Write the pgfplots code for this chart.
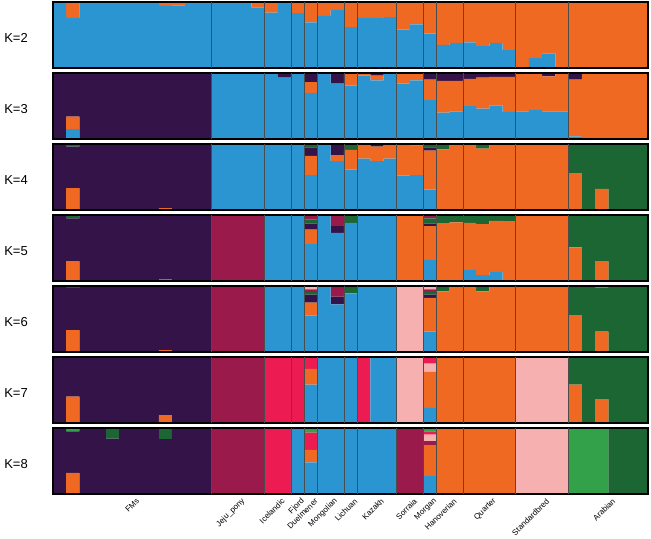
\documentclass[border=0pt]{standalone}
\usepackage{pgfplots}
\pgfplotsset{compat=1.18}
\usepackage{pgfplotstable}
\usepackage{fontspec}
\setmainfont{Liberation Sans}

\definecolor{cPur}{HTML}{341349}
\definecolor{cBlu}{HTML}{2B95D2}
\definecolor{cOra}{HTML}{F06922}
\definecolor{cDGr}{HTML}{1B6632}
\definecolor{cMar}{HTML}{9A1B4B}
\definecolor{cLPi}{HTML}{F7B0B0}
\definecolor{cHPi}{HTML}{EC1B52}
\definecolor{cLGr}{HTML}{33A04A}

% K=2: blue orange
\pgfplotstableread{
b o
1 0
0.76 0.24
1 0
1 0
1 0
1 0
1 0
1 0
0.94 0.06
0.95 0.05
1 0
1 0
1 0
1 0
1 0
0.92 0.08
0.84 0.16
1 0
0.83 0.17
0.69 0.31
0.79 0.21
0.88 0.12
0.62 0.38
0.76 0.24
0.76 0.24
0.77 0.23
0.58 0.42
0.66 0.34
0.52 0.48
0.35 0.65
0.38 0.62
0.39 0.61
0.33 0.67
0.38 0.62
0.27 0.73
0 1
0.15 0.85
0.22 0.78
0 1
0 1
0 1
0 1
0 1
0 1
0 1
}\tabB

% K=3: blue orange purple
\pgfplotstableread{
b o p
0 0 1
0.15 0.19 0.66
0 0 1
0 0 1
0 0 1
0 0 1
0 0 1
0 0 1
0 0 1
0 0 1
0 0 1
0 0 1
1 0 0
1 0 0
1 0 0
1 0 0
1 0 0
0.93 0 0.07
1 0 0
0.70 0.16 0.14
1 0 0
0.84 0 0.16
0.81 0.19 0
0.96 0.04 0
0.89 0.07 0.04
1 0 0
0.84 0.16 0
0.89 0.11 0
0.59 0.31 0.10
0.40 0.48 0.12
0.42 0.46 0.12
0.50 0.41 0.09
0.46 0.47 0.07
0.51 0.43 0.06
0.41 0.53 0.06
0.42 0.58 0
0.44 0.56 0
0.42 0.53 0.05
0.42 0.58 0
0.04 0.86 0.10
0 1 0
0 1 0
0 1 0
0 1 0
0 1 0
}\tabC

% K=4: blue orange purple green
\pgfplotstableread{
b o p g
0 0 1 0
0 0.33 0.63 0.04
0 0 1 0
0 0 1 0
0 0 1 0
0 0 1 0
0 0 1 0
0 0 1 0
0 0.03 0.97 0
0 0 1 0
0 0 1 0
0 0 1 0
1 0 0 0
1 0 0 0
1 0 0 0
1 0 0 0
1 0 0 0
1 0 0 0
1 0 0 0
0.53 0.29 0.13 0.05
1 0 0 0
0.74 0.09 0.17 0
0.61 0.30 0 0.09
0.78 0.22 0 0
0.74 0.22 0.04 0
0.78 0.22 0 0
0.52 0.48 0 0
0.53 0.45 0.02 0
0.31 0.59 0.05 0.05
0 0.92 0 0.08
0 1 0 0
0 1 0 0
0 0.93 0 0.07
0 1 0 0
0 1 0 0
0 1 0 0
0 1 0 0
0 1 0 0
0 1 0 0
0 0.56 0 0.44
0 0 0 1
0 0.32 0 0.68
0 0 0 1
0 0 0 1
0 0 0 1
}\tabD

% K=5: blue orange purple green maroon
\pgfplotstableread{
b o p g m
0 0 1 0 0
0 0.30 0.65 0.05 0
0 0 1 0 0
0 0 1 0 0
0 0 1 0 0
0 0 1 0 0
0 0 1 0 0
0 0 1 0 0
0 0.02 0.98 0 0
0 0 1 0 0
0 0 1 0 0
0 0 1 0 0
0 0 0 0 1
0 0 0 0 1
0 0 0 0 1
0 0 0 0 1
1 0 0 0 0
1 0 0 0 0
1 0 0 0 0
0.56 0.22 0.09 0.06 0.07
1 0 0 0 0
0.73 0 0.10 0 0.17
0.88 0 0 0.12 0
1 0 0 0 0
1 0 0 0 0
1 0 0 0 0
0 1 0 0 0
0 1 0 0 0
0.32 0.51 0.04 0.08 0.05
0 0.87 0 0.13 0
0 0.89 0 0.11 0
0.17 0.71 0 0.12 0
0.09 0.77 0 0.14 0
0.14 0.77 0 0.09 0
0 0.90 0 0.10 0
0 1 0 0 0
0 1 0 0 0
0 1 0 0 0
0 1 0 0 0
0 0.51 0 0.49 0
0 0 0 1 0
0 0.30 0 0.70 0
0 0 0 1 0
0 0 0 1 0
0 0 0 1 0
}\tabE

% K=6: blue orange purple green maroon lightpink
\pgfplotstableread{
b o p g m k
0 0 1 0 0 0
0 0.33 0.64 0.03 0 0
0 0 1 0 0 0
0 0 1 0 0 0
0 0 1 0 0 0
0 0 1 0 0 0
0 0 1 0 0 0
0 0 1 0 0 0
0 0.03 0.97 0 0 0
0 0 1 0 0 0
0 0 1 0 0 0
0 0 1 0 0 0
0 0 0 0 1 0
0 0 0 0 1 0
0 0 0 0 1 0
0 0 0 0 1 0
1 0 0 0 0 0
1 0 0 0 0 0
1 0 0 0 0 0
0.55 0.20 0.12 0.04 0.04 0.05
1 0 0 0 0 0
0.72 0 0.12 0 0.16 0
0.89 0 0 0.11 0 0
1 0 0 0 0 0
1 0 0 0 0 0
1 0 0 0 0 0
0 0 0 0 0 1
0 0 0 0 0 1
0.31 0.51 0.05 0.04 0.04 0.05
0 0.92 0 0.08 0 0
0 1 0 0 0 0
0 1 0 0 0 0
0 0.92 0 0.08 0 0
0 1 0 0 0 0
0 1 0 0 0 0
0 1 0 0 0 0
0 1 0 0 0 0
0 1 0 0 0 0
0 1 0 0 0 0
0 0.56 0 0.44 0 0
0 0 0 1 0 0
0 0.31 0 0.67 0 0.02
0 0 0 1 0 0
0 0 0 1 0 0
0 0 0 1 0 0
}\tabF

% K=7: blue orange lightpink hotpink purple maroon green
\pgfplotstableread{
b o k h p m g
0 0 0 0 1 0 0
0 0.40 0 0 0.60 0 0
0 0 0 0 1 0 0
0 0 0 0 1 0 0
0 0 0 0 1 0 0
0 0 0 0 1 0 0
0 0 0 0 1 0 0
0 0 0 0 1 0 0
0 0.12 0 0 0.88 0 0
0 0 0 0 1 0 0
0 0 0 0 1 0 0
0 0 0 0 1 0 0
0 0 0 0 0 1 0
0 0 0 0 0 1 0
0 0 0 0 0 1 0
0 0 0 0 0 1 0
0 0 0 1 0 0 0
0 0 0 1 0 0 0
0 0 0 1 0 0 0
0.58 0.24 0 0.18 0 0 0
1 0 0 0 0 0 0
1 0 0 0 0 0 0
1 0 0 0 0 0 0
0 0 0 1 0 0 0
1 0 0 0 0 0 0
1 0 0 0 0 0 0
0 0 1 0 0 0 0
0 0 1 0 0 0 0
0.23 0.55 0.12 0.10 0 0 0
0 1 0 0 0 0 0
0 1 0 0 0 0 0
0 1 0 0 0 0 0
0 1 0 0 0 0 0
0 1 0 0 0 0 0
0 1 0 0 0 0 0
0 0 1 0 0 0 0
0 0 1 0 0 0 0
0 0 1 0 0 0 0
0 0 1 0 0 0 0
0 0.58 0 0 0 0 0.42
0 0 0 0 0 0 1
0 0.36 0 0 0 0 0.64
0 0 0 0 0 0 1
0 0 0 0 0 0 1
0 0 0 0 0 0 1
}\tabG

% K=8: blue orange maroon lightpink hotpink purple darkgreen lightgreen
\pgfplotstableread{
b o m k h p d l
0 0 0 0 0 1 0 0
0 0.32 0 0 0 0.63 0 0.05
0 0 0 0 0 1 0 0
0 0 0 0 0 1 0 0
0 0 0 0 0 0.84 0.16 0
0 0 0 0 0 1 0 0
0 0 0 0 0 1 0 0
0 0 0 0 0 1 0 0
0 0 0 0 0 0.83 0.17 0
0 0 0 0 0 1 0 0
0 0 0 0 0 1 0 0
0 0 0 0 0 1 0 0
0 0 1 0 0 0 0 0
0 0 1 0 0 0 0 0
0 0 1 0 0 0 0 0
0 0 1 0 0 0 0 0
0 0 0 0 1 0 0 0
0 0 0 0 1 0 0 0
1 0 0 0 0 0 0 0
0.48 0.19 0 0 0.26 0 0 0.07
1 0 0 0 0 0 0 0
1 0 0 0 0 0 0 0
1 0 0 0 0 0 0 0
1 0 0 0 0 0 0 0
1 0 0 0 0 0 0 0
1 0 0 0 0 0 0 0
0 0 1 0 0 0 0 0
0 0 1 0 0 0 0 0
0.27 0.47 0.06 0.10 0.05 0 0 0.05
0 1 0 0 0 0 0 0
0 1 0 0 0 0 0 0
0 1 0 0 0 0 0 0
0 1 0 0 0 0 0 0
0 1 0 0 0 0 0 0
0 1 0 0 0 0 0 0
0 0 0 1 0 0 0 0
0 0 0 1 0 0 0 0
0 0 0 1 0 0 0 0
0 0 0 1 0 0 0 0
0 0 0 0 0 0 0 1
0 0 0 0 0 0 0 1
0 0 0 0 0 0 0 1
0 0 0 0 0 0 1 0
0 0 0 0 0 0 1 0
0 0 0 0 0 0 1 0
}\tabH

\newcommand\bars[3]{\addplot[fill=#3,draw=none] table[x expr=\coordindex+0.5,y=#2]{#1};}

\pgfplotsset{
  strp/.style={
    scale only axis, width=446.25pt, height=49.5pt,
    anchor=north west,
    xmin=0, xmax=45, ymin=0, ymax=1, enlargelimits=false,
    ybar stacked, bar width=1,
    xtick=\empty, ytick=\empty,
    axis on top,
    axis line style={line width=1.5pt, black},
    extra x ticks={12,16,18,19,20,22,23,26,28,29,31,35,39},
    extra x tick labels={},
    extra x tick style={grid=major, major tick length=0pt,
      major grid style={line width=0.5pt, black!70}},
  },
}

\begin{document}
\begin{tikzpicture}[x=0.75pt,y=0.75pt]
\useasboundingbox (0,0) rectangle (651,-539);

\begin{axis}[strp, at={(39.75pt,-1.5pt)}]
\bars{\tabB}{b}{cBlu}
\bars{\tabB}{o}{cOra}
\end{axis}

\begin{axis}[strp, at={(39.75pt,-54.75pt)}]
\bars{\tabC}{b}{cBlu}
\bars{\tabC}{o}{cOra}
\bars{\tabC}{p}{cPur}
\end{axis}

\begin{axis}[strp, at={(39.75pt,-108pt)}]
\bars{\tabD}{b}{cBlu}
\bars{\tabD}{o}{cOra}
\bars{\tabD}{p}{cPur}
\bars{\tabD}{g}{cDGr}
\end{axis}

\begin{axis}[strp, at={(39.75pt,-161.25pt)}]
\bars{\tabE}{b}{cBlu}
\bars{\tabE}{o}{cOra}
\bars{\tabE}{p}{cPur}
\bars{\tabE}{g}{cDGr}
\bars{\tabE}{m}{cMar}
\end{axis}

\begin{axis}[strp, at={(39.75pt,-214.5pt)}]
\bars{\tabF}{b}{cBlu}
\bars{\tabF}{o}{cOra}
\bars{\tabF}{p}{cPur}
\bars{\tabF}{g}{cDGr}
\bars{\tabF}{m}{cMar}
\bars{\tabF}{k}{cLPi}
\end{axis}

\begin{axis}[strp, at={(39.75pt,-267.75pt)}]
\bars{\tabG}{b}{cBlu}
\bars{\tabG}{o}{cOra}
\bars{\tabG}{k}{cLPi}
\bars{\tabG}{h}{cHPi}
\bars{\tabG}{p}{cPur}
\bars{\tabG}{m}{cMar}
\bars{\tabG}{g}{cDGr}
\end{axis}

\begin{axis}[strp, at={(39.75pt,-321pt)},
  xtick={6,14,17,18.5,19.5,21,22.5,24.5,27,28.5,30,33,37,42},
  xticklabels={FMs,Jeju\_pony,Icelandic,Fjord,Duelmener,Mongolian,Lichuan,Kazakh,Sorraia,Morgan,Hanoverian,Quarter,Standardbred,Arabian},
  major tick length=0pt,
  xticklabel style={rotate=45, anchor=east, inner sep=0pt, yshift=-6pt,
    font=\fontsize{6}{7}\selectfont},
]
\bars{\tabH}{b}{cBlu}
\bars{\tabH}{o}{cOra}
\bars{\tabH}{m}{cMar}
\bars{\tabH}{k}{cLPi}
\bars{\tabH}{h}{cHPi}
\bars{\tabH}{p}{cPur}
\bars{\tabH}{d}{cDGr}
\bars{\tabH}{l}{cLGr}
\end{axis}

\foreach \k [count=\i from 0] in {2,...,8}{
  \node[font=\fontsize{9.75}{11}\selectfont, inner sep=0pt] at (16,{-38-71*\i}) {K=\k};
}
\end{tikzpicture}
\end{document}
